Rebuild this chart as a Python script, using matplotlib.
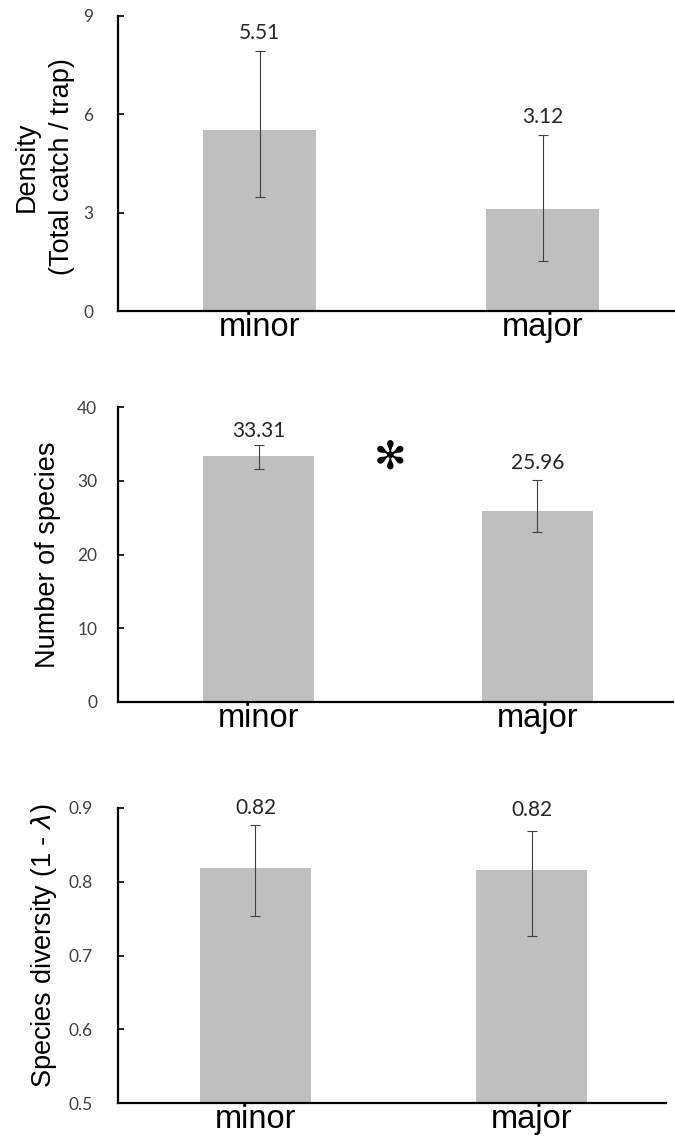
import matplotlib
matplotlib.use('Agg')
import matplotlib.pyplot as plt

# habitat disturbance groups
groups = ['minor', 'major']

# catch density per trap: mean with lower / upper bounds
density_mean = [5.51, 3.12]
density_low = [3.48, 1.52]
density_high = [7.93, 5.37]

# species richness
richness_mean = [33.31, 25.96]
richness_low = [31.6, 23.1]
richness_high = [34.85, 30.1]

# Simpson diversity (1 - lambda)
diversity_mean = [0.818, 0.816]
diversity_low = [0.754, 0.727]
diversity_high = [0.877, 0.869]

BAR_COLOR = '#bfbfbf'
ERR_COLOR = '#404040'
NUM_FONT = 'Lato'
LABEL_FONT = 'Liberation Sans'

W, H = 675, 1141


def px_axes(fig, left, right, top, bottom):
    return fig.add_axes([left / W, 1 - bottom / H, (right - left) / W, (bottom - top) / H])


def draw_panel(ax, means, low, high, ylim, yticks, yticklabels, xlim, ylabel,
               tickpad, labelxy, label_offset, fmt):
    x = list(range(len(groups)))
    yerr = [[m - lo for m, lo in zip(means, low)],
            [hi - m for m, hi in zip(means, high)]]
    ax.bar(x, means, width=0.4, color=BAR_COLOR, zorder=2)
    ax.errorbar(x, means, yerr=yerr, fmt='none', ecolor=ERR_COLOR,
                elinewidth=0.8, capsize=3.5, capthick=0.8, zorder=3)
    for xi, m, hi, off in zip(x, means, high, label_offset):
        ax.annotate(format(m, fmt), (xi, hi), xytext=(0, off),
                    textcoords='offset points', ha='center', va='center',
                    fontsize=15, family=NUM_FONT, color='#262626')

    ax.set_xlim(*xlim)
    ax.set_ylim(*ylim)
    ax.set_yticks(yticks)
    ax.set_yticklabels(yticklabels, family=NUM_FONT, fontsize=12.5, color='#404040')
    ax.set_xticks(x)
    ax.set_xticklabels(groups, family=LABEL_FONT, fontsize=23.5, color='black')
    ax.tick_params(axis='x', length=0, pad=1)
    ax.tick_params(axis='y', direction='in', length=4, width=1.2, pad=tickpad)

    for side in ['top', 'right']:
        ax.spines[side].set_visible(False)
    for side in ['left', 'bottom']:
        ax.spines[side].set_linewidth(1.6)
        ax.spines[side].set_color('black')

    ax.set_ylabel(ylabel, family=LABEL_FONT, fontsize=19.5, linespacing=1.45)
    ax.yaxis.set_label_coords(*labelxy)


fig = plt.figure(figsize=(W / 100, H / 100), dpi=100)
fig.patch.set_facecolor('white')

ax1 = px_axes(fig, 118, 675, 16, 311)
draw_panel(ax1, density_mean, density_low, density_high,
           (0, 9), [0, 3, 6, 9], ['0', '3', '6', '9'], (-0.5, 1.468),
           'Density\n(Total catch / trap)', 18, (-0.078, 0.49), [13, 13], '.2f')

ax2 = px_axes(fig, 118, 673, 407, 702)
draw_panel(ax2, richness_mean, richness_low, richness_high,
           (0, 40), [0, 10, 20, 30, 40], ['0', '10', '20', '30', '40'], (-0.504, 1.486),
           'Number of species', 15, (-0.103, 0.5), [10, 12], '.2f')
ax2.text(0.47, 33.1, '\u273b', ha='center', va='center', fontsize=28,
         family='DejaVu Sans', color='black')

ax3 = px_axes(fig, 118, 666, 808, 1103)
draw_panel(ax3, diversity_mean, diversity_low, diversity_high,
           (0.5, 0.9), [0.5, 0.6, 0.7, 0.8, 0.9], ['0.5', '0.6', '0.7', '0.8', '0.9'],
           (-0.498, 1.487),
           r'Species diversity (1 - $\lambda$)', 18, (-0.107, 0.534), [12, 15], '.2f')

fig.savefig('out.png', dpi=100, facecolor='white')
